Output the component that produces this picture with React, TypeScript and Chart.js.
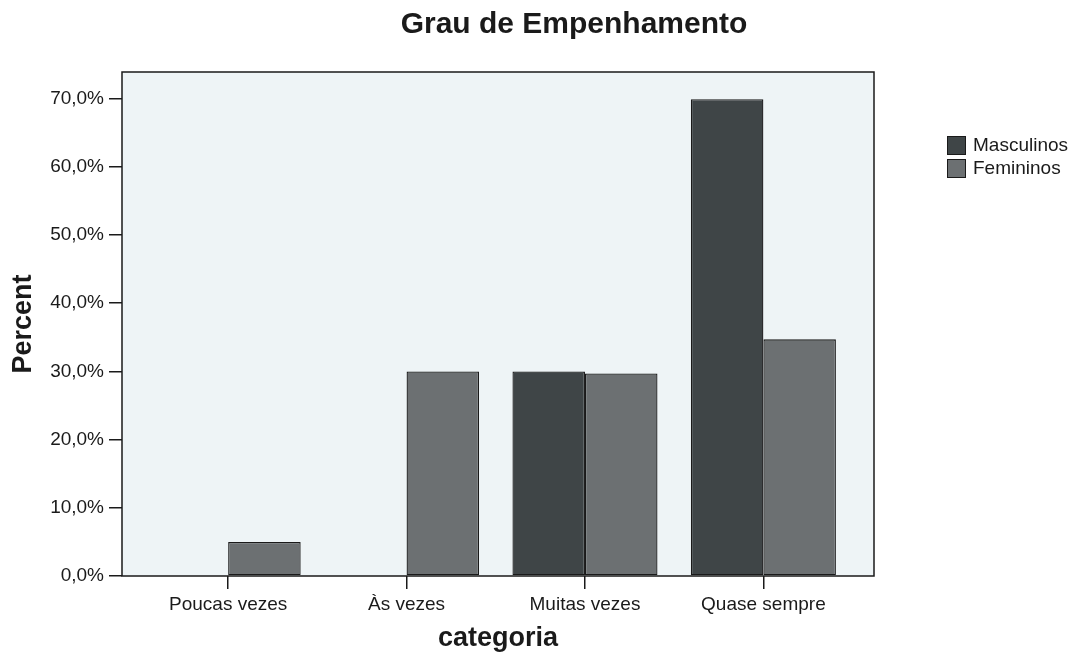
import React, { useEffect, useRef } from "react";
import { Chart, registerables } from "chart.js";

Chart.register(...registerables);

const categories = ["Poucas vezes", "Às vezes", "Muitas vezes", "Quase sempre"];
const masculinos = [0, 0, 30.0, 69.9];
const femininos = [5.0, 30.0, 29.7, 34.7];
const seriesNames = ["Masculinos", "Femininos"];
const yTicks = [0, 10, 20, 30, 40, 50, 60, 70];

const COLORS = ["#3f4547", "#6c7072"];
const FONT = "'Liberation Sans', Arial, sans-serif";

const framePlugin = {
  id: "frame",
  beforeDraw(chart: any) {
    const { ctx, chartArea: a } = chart;
    ctx.save();
    ctx.fillStyle = "#eef4f6";
    ctx.fillRect(a.left, a.top, a.right - a.left, a.bottom - a.top);
    ctx.restore();
  },
  afterDraw(chart: any) {
    const { ctx, chartArea: a } = chart;
    ctx.save();
    ctx.strokeStyle = "#1a1a1a";
    ctx.lineWidth = 1.5;
    ctx.strokeRect(a.left, a.top, a.right - a.left, a.bottom - a.top);
    ctx.restore();
  },
};

export default function App() {
  const ref = useRef<HTMLCanvasElement>(null);

  useEffect(() => {
    if (!ref.current) return;
    const chart = new Chart(ref.current, {
      type: "bar",
      data: {
        datasets: [
          {
            label: seriesNames[0],
            data: masculinos.map((v, i) => ({ x: i, y: v })) as any,
            backgroundColor: COLORS[0],
            borderColor: "#1a1a1a",
            borderWidth: 1.3,
            borderSkipped: false,
            categoryPercentage: 0.813,
            barPercentage: 1,
          },
          {
            label: seriesNames[1],
            data: femininos.map((v, i) => ({ x: i, y: v })) as any,
            backgroundColor: COLORS[1],
            borderColor: "#1a1a1a",
            borderWidth: 1.3,
            borderSkipped: false,
            categoryPercentage: 0.813,
            barPercentage: 1,
          },
        ],
      },
      options: {
        animation: false,
        responsive: false,
        maintainAspectRatio: false,
        layout: { padding: { top: 72, right: 212, left: 0, bottom: 0 } },
        plugins: {
          legend: { display: false },
          title: { display: false },
          tooltip: { enabled: false },
        },
        scales: {
          x: {
            type: "linear",
            min: -0.595,
            max: 3.62,
            offset: false,
            afterBuildTicks: (s: any) => {
              s.ticks = categories.map((_, i) => ({ value: i }));
            },
            afterFit: (s: any) => {
              s.height = 79;
            },
            ticks: {
              autoSkip: false,
              maxRotation: 0,
              padding: 4,
              color: "#1a1a1a",
              font: { family: FONT, size: 19 },
              callback: (v: any) => categories[Math.round(Number(v))] ?? "",
            },
            grid: {
              drawOnChartArea: false,
              drawTicks: true,
              tickLength: 13,
              color: "#1a1a1a",
              lineWidth: 1.5,
              offset: false,
            },
            border: { display: false },
            title: {
              display: true,
              text: "categoria",
              color: "#1a1a1a",
              font: { family: FONT, size: 27, weight: "bold", lineHeight: 1.2 },
              padding: { top: 0, bottom: 0 },
            },
          },
          y: {
            type: "linear",
            min: 0,
            max: 73.9,
            afterBuildTicks: (s: any) => {
              s.ticks = yTicks.map((v) => ({ value: v }));
            },
            afterFit: (s: any) => {
              s.width = 122;
            },
            ticks: {
              padding: 5,
              color: "#1a1a1a",
              font: { family: FONT, size: 19 },
              callback: (v: any) => Number(v).toFixed(1).replace(".", ",") + "%",
            },
            grid: {
              drawOnChartArea: false,
              drawTicks: true,
              tickLength: 13,
              color: "#1a1a1a",
              lineWidth: 1.5,
            },
            border: { display: false },
            title: {
              display: true,
              text: "Percent",
              color: "#1a1a1a",
              font: { family: FONT, size: 27, weight: "bold", lineHeight: 1.2 },
              padding: { top: 7, bottom: 0 },
            },
          },
        },
      } as any,
      plugins: [framePlugin],
    });
    return () => chart.destroy();
  }, []);

  return (
    <div
      style={{
        position: "fixed",
        left: 0,
        top: 0,
        width: 1086,
        height: 655,
        background: "#ffffff",
        fontFamily: FONT,
        color: "#1a1a1a",
      }}
    >
      <canvas ref={ref} width={1086} height={655} style={{ position: "absolute", left: 0, top: 0 }} />
      <div
        style={{
          position: "absolute",
          left: 0,
          width: 1148,
          top: 8,
          textAlign: "center",
          fontSize: 30,
          lineHeight: "30px",
          fontWeight: "bold",
          whiteSpace: "nowrap",
        }}
      >
        Grau de Empenhamento
      </div>
      {seriesNames.map((name, i) => (
        <div
          key={name}
          style={{
            position: "absolute",
            left: 947,
            top: 135 + i * 23,
            height: 20,
            display: "flex",
            alignItems: "center",
            fontSize: 19,
            whiteSpace: "nowrap",
          }}
        >
          <span
            style={{
              display: "inline-block",
              width: 19,
              height: 19,
              boxSizing: "border-box",
              background: COLORS[i],
              border: "1.5px solid #1a1a1a",
              marginRight: 7,
            }}
          />
          {name}
        </div>
      ))}
    </div>
  );
}
